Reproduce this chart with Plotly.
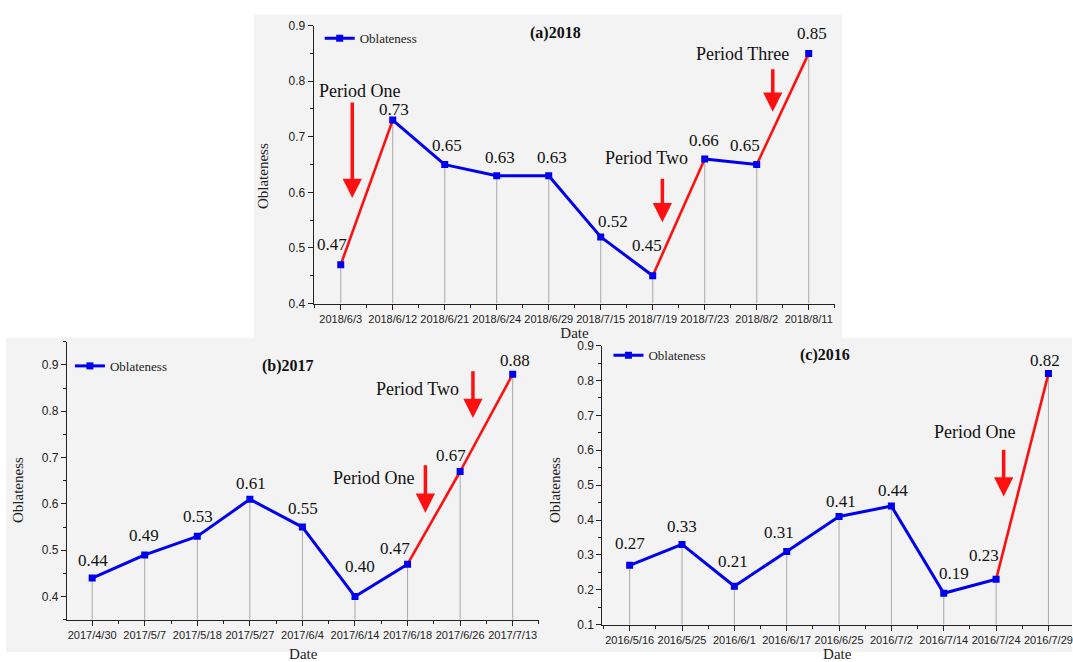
import plotly.graph_objects as go

W, H = 1073, 662

# ---- data -------------------------------------------------------------
dates_2018 = ["2018/6/3", "2018/6/12", "2018/6/21", "2018/6/24", "2018/6/29",
              "2018/7/15", "2018/7/19", "2018/7/23", "2018/8/2", "2018/8/11"]
obl_2018 = [0.47, 0.73, 0.65, 0.63, 0.63, 0.52, 0.45, 0.66, 0.65, 0.85]
rise_2018 = [0, 6, 8]          # segments (start index) drawn in red

dates_2017 = ["2017/4/30", "2017/5/7", "2017/5/18", "2017/5/27", "2017/6/4",
              "2017/6/14", "2017/6/18", "2017/6/26", "2017/7/13"]
obl_2017 = [0.44, 0.49, 0.53, 0.61, 0.55, 0.40, 0.47, 0.67, 0.88]
rise_2017 = [6, 7]

dates_2016 = ["2016/5/16", "2016/5/25", "2016/6/1", "2016/6/17", "2016/6/25",
              "2016/7/2", "2016/7/14", "2016/7/24", "2016/7/29"]
obl_2016 = [0.27, 0.33, 0.21, 0.31, 0.41, 0.44, 0.19, 0.23, 0.82]
rise_2016 = [7]

BLUE = "#0000ee"
RED = "#ff1010"
GREY_BG = "#f3f3f3"
SERIF = "Liberation Serif"
SANS = "Liberation Sans"


def fx(p):
    return p / W


def fy(p):
    return 1 - p / H


def paper_text(x, y, text, size, color="#111", **kw):
    return dict(x=fx(x), y=fy(y), xref="paper", yref="paper", text=text,
                showarrow=False, xanchor="center", yanchor="middle",
                font=dict(family=SERIF, size=size, color=color), **kw)


# ---- layout of the three panels (pixel geometry) -----------------------
panels = [
    dict(dates=dates_2018, vals=obl_2018, rise=rise_2018, ax="", legend="legend",
         xdom=(314, 836), ydom=(19, 303), xr=[-0.52, 9.51], yr=[0.4, 0.9],
         title=("(a)2018", 556, 27), leg=(320, 32),
         ytitle=(264, 173), date_standoff=0,
         offs=[(-9, 20), (1, 11), (2, 19), (3, 18), (3, 18), (12, 15), (-6, 30),
               (-1, 19), (-12, 19), (3, 20)],
         periods=[("Period One", 360, 86), ("Period Two", 647, 154),
                  ("Period Three", 743, 48)],
         arrows=[(352.6, 98, 195), (663, 175, 220), (773.5, 63, 107)]),
    dict(dates=dates_2017, vals=obl_2017, rise=rise_2017, ax="2", legend="legend2",
         xdom=(67, 540), ydom=(342, 626), xr=[-0.48, 8.51], yr=[0.35, 0.95],
         title=("(b)2017", 288.5, 367), leg=(70, 366.7),
         ytitle=(17.4, 493), date_standoff=9,
         offs=[(1, 18), (-1, 19), (1, 20), (1, 16), (1, 19), (5, 30), (-13, 16),
               (-9, 16), (2, 14)],
         periods=[("Period Two", 418, 390), ("Period One", 373.6, 481)],
         arrows=[(473.4, 371.7, 420), (425.8, 467.7, 516.7)]),
    dict(dates=dates_2016, vals=obl_2016, rise=rise_2016, ax="3", legend="legend3",
         xdom=(603, 1073), ydom=(346, 631), xr=[-0.52, 8.45], yr=[0.1, 0.9],
         title=("(c)2016", 825.5, 356), leg=(609, 355.7),
         ytitle=(555, 493), date_standoff=3,
         offs=[(0, 22), (0, 18), (-1, 25), (-8, 19), (2, 15), (2, 16), (10, 20),
               (-12, 24), (-3, 13)],
         periods=[("Period One", 975.8, 434.3)],
         arrows=[(1004.6, 451.7, 500)]),
]

fig = go.Figure()
annotations = []
layout_axes = {}
legends = {}

for p in panels:
    xa, ya = "x" + p["ax"], "y" + p["ax"]
    n = len(p["vals"])
    idx = list(range(n))
    bottom = p["yr"][0]

    # grey drop lines from each point to the x axis
    dx, dy = [], []
    for i, v in zip(idx, p["vals"]):
        dx += [i, i, None]
        dy += [v, bottom, None]
    fig.add_trace(go.Scatter(x=dx, y=dy, mode="lines", xaxis=xa, yaxis=ya,
                             line=dict(color="#a8a8a8", width=1),
                             showlegend=False, hoverinfo="skip"))

    # blue and red line segments
    bx, by, rx, ry = [], [], [], []
    for i in range(n - 1):
        seg_x = [i, i + 1, None]
        seg_y = [p["vals"][i], p["vals"][i + 1], None]
        if i in p["rise"]:
            rx += seg_x
            ry += seg_y
        else:
            bx += seg_x
            by += seg_y
    fig.add_trace(go.Scatter(x=bx, y=by, mode="lines", xaxis=xa, yaxis=ya,
                             line=dict(color=BLUE, width=3), showlegend=False))
    fig.add_trace(go.Scatter(x=rx, y=ry, mode="lines", xaxis=xa, yaxis=ya,
                             line=dict(color=RED, width=2.6), showlegend=False))
    # square markers
    fig.add_trace(go.Scatter(x=idx, y=p["vals"], mode="markers", xaxis=xa, yaxis=ya,
                             marker=dict(symbol="square", size=7, color=BLUE),
                             showlegend=False))
    # legend entry
    fig.add_trace(go.Scatter(x=[None], y=[None], mode="lines+markers", xaxis=xa, yaxis=ya,
                             name="Oblateness", legend=p["legend"],
                             line=dict(color=BLUE, width=3),
                             marker=dict(symbol="square", size=7, color=BLUE)))
    legends[p["legend"]] = dict(
        x=fx(p["leg"][0]), y=fy(p["leg"][1]), xanchor="left", yanchor="middle",
        bgcolor="rgba(0,0,0,0)", borderwidth=0,
        font=dict(family=SERIF, size=13, color="#222"))

    # value labels
    for i, v in enumerate(p["vals"]):
        ox, oy = p["offs"][i]
        annotations.append(dict(x=i, y=v, xref=xa, yref=ya, text=f"{v:.2f}",
                                showarrow=False, xshift=ox, yshift=oy,
                                xanchor="center", yanchor="middle",
                                font=dict(family=SERIF, size=17, color="#111")))

    # period labels and arrows
    for txt, cx, cy in p["periods"]:
        annotations.append(paper_text(cx, cy, txt, 18))
    for axp, ytail, ytip in p["arrows"]:
        annotations.append(dict(x=fx(axp), y=fy(ytip), xref="paper", yref="paper",
                                text="", showarrow=True, ax=0, ay=-(ytip - ytail),
                                arrowhead=2, arrowsize=1.1, arrowwidth=3.5,
                                arrowcolor=RED, standoff=0))

    # panel title and y-axis title
    t, tx, ty = p["title"]
    annotations.append(paper_text(tx, ty, f"<b>{t}</b>", 16))
    annotations.append(paper_text(p["ytitle"][0], p["ytitle"][1], "Oblateness", 15,
                                  color="#222", textangle=-90))

    axis_common = dict(showgrid=False, zeroline=False, showline=True,
                       linecolor="#222", linewidth=1.2, ticks="outside",
                       tickcolor="#222", ticklen=5, tickwidth=1,
                       ticklabeloverflow="allow")
    xkey = "xaxis" + p["ax"]
    ykey = "yaxis" + p["ax"]
    layout_axes[xkey] = dict(
        axis_common, domain=[fx(p["xdom"][0]), fx(p["xdom"][1])], range=p["xr"],
        anchor=ya, tickmode="array", tickvals=idx, ticktext=p["dates"],
        tickangle=0, tickfont=dict(family=SANS, size=11, color="#222"),
        title=dict(text="Date", standoff=p["date_standoff"],
                   font=dict(family=SERIF, size=15, color="#222")),
        minor=dict(tickmode="linear", tick0=0.5, dtick=1, ticks="outside",
                   ticklen=3, tickcolor="#222"))
    layout_axes[ykey] = dict(
        axis_common, domain=[fy(p["ydom"][1]), fy(p["ydom"][0])], range=p["yr"],
        anchor=xa, tick0=0, dtick=0.1, tickformat=".1f",
        tickfont=dict(family=SANS, size=12, color="#222"),
        minor=dict(tick0=0.05, dtick=0.1, ticks="outside", ticklen=3,
                   tickcolor="#222"))

# grey panel backgrounds
shapes = [
    dict(type="rect", xref="paper", yref="paper", layer="below",
         x0=fx(254), x1=fx(843), y0=fy(338), y1=fy(8),
         fillcolor=GREY_BG, line=dict(width=0)),
    dict(type="rect", xref="paper", yref="paper", layer="below",
         x0=fx(6), x1=fx(1073), y0=fy(659), y1=fy(338),
         fillcolor=GREY_BG, line=dict(width=0)),
]

fig.update_layout(
    width=W, height=H, margin=dict(l=0, r=0, t=0, b=0),
    paper_bgcolor="white", plot_bgcolor="rgba(0,0,0,0)",
    annotations=annotations, shapes=shapes, **layout_axes, **legends,
)

fig.write_html("out.html")
